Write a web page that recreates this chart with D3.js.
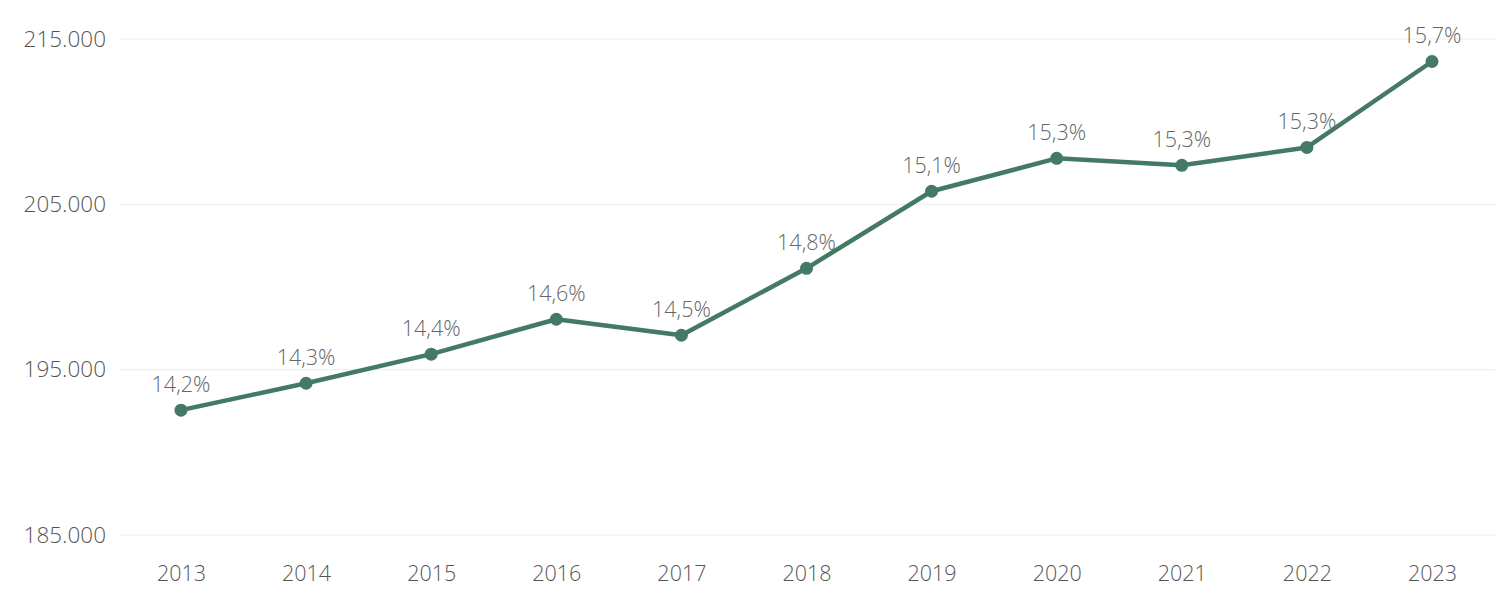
<!DOCTYPE html>
<html>
<head>
<meta charset="utf-8">
<script src="https://cdn.jsdelivr.net/npm/d3@7"></script>
<style>
  body { margin: 0; background: #fff; }
  svg text { font-family: "Open Sans", "Noto Sans", sans-serif; font-weight: 300; }
</style>
</head>
<body>
<svg id="chart" width="1510" height="604"></svg>
<script>
// yearly values with share labels

const years = ["2013", "2014", "2015", "2016", "2017", "2018", "2019", "2020", "2021", "2022", "2023"];
const values = [192550, 194180, 195940, 198050, 197080, 201130, 205790, 207780, 207360, 208440, 213640];
const shares = ["14,2%", "14,3%", "14,4%", "14,6%", "14,5%", "14,8%", "15,1%", "15,3%", "15,3%", "15,3%", "15,7%"];
const yTicks = [185000, 195000, 205000, 215000];

const svg = d3.select("#chart");
const width = 1510;
const height = 604;

const x = d3.scalePoint()
  .domain(years)
  .range([181, 1432]);

const y = d3.scaleLinear()
  .domain([185000, 215000])
  .range([535, 39]);

const fmt = d => d3.format(",")(d).replace(/,/g, ".");

// gridlines
svg.append("g")
  .selectAll("line")
  .data(yTicks)
  .join("line")
  .attr("x1", 120)
  .attr("x2", 1495)
  .attr("y1", d => y(d))
  .attr("y2", d => y(d))
  .attr("stroke", "#ececec")
  .attr("stroke-width", 1);

// y axis labels
const yAxis = svg.append("g")
  .attr("transform", "translate(106,0)")
  .call(d3.axisLeft(y).tickValues(yTicks).tickFormat(fmt).tickSize(0).tickPadding(0));
yAxis.select(".domain").remove();
yAxis.selectAll("text")
  .style("font-size", "22.5px")
  .attr("fill", "#555");

// x axis labels
const xAxis = svg.append("g")
  .attr("transform", "translate(0,566)")
  .call(d3.axisBottom(x).tickSize(0).tickPadding(0));
xAxis.select(".domain").remove();
xAxis.selectAll("text")
  .style("font-size", "21.5px")
  .attr("fill", "#555");

const pts = years.map((yr, i) => ({ yr, v: values[i], s: shares[i] }));

const line = d3.line()
  .x(d => x(d.yr))
  .y(d => y(d.v));

svg.append("path")
  .datum(pts)
  .attr("d", line)
  .attr("fill", "none")
  .attr("stroke", "#447966")
  .attr("stroke-width", 4.5)
  .attr("stroke-linejoin", "round");

svg.append("g")
  .selectAll("circle")
  .data(pts)
  .join("circle")
  .attr("cx", d => x(d.yr))
  .attr("cy", d => y(d.v))
  .attr("r", 6.5)
  .attr("fill", "#447966");

svg.append("g")
  .selectAll("text")
  .data(pts)
  .join("text")
  .attr("x", d => x(d.yr))
  .attr("y", d => y(d.v) - 18)
  .attr("text-anchor", "middle")
  .style("font-size", "21.5px")
  .attr("fill", "#666")
  .text(d => d.s);
</script>
</body>
</html>
